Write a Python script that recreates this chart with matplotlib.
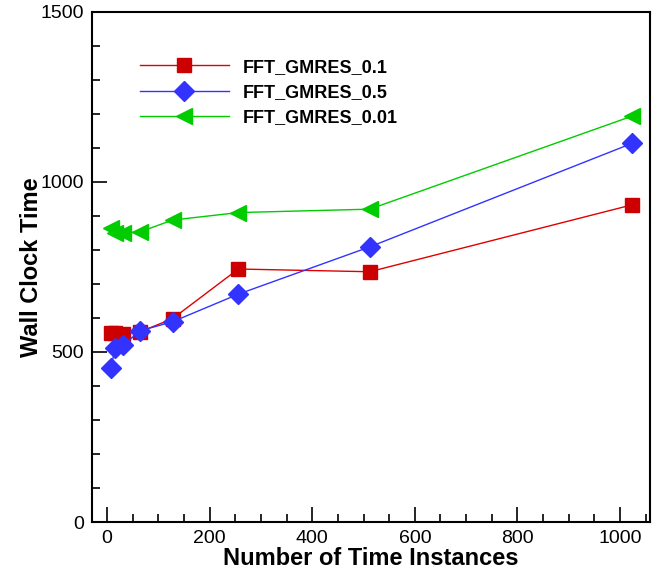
import numpy as np
import matplotlib
matplotlib.use("Agg")
import matplotlib.pyplot as plt
from matplotlib.ticker import MultipleLocator

plt.rcParams['font.family'] = ['Liberation Sans', 'DejaVu Sans']

# number of time instances
instances = [8, 16, 32, 64, 128, 256, 512, 1024]
# wall clock times
gmres_01 = [556, 556, 553, 559, 598, 744, 736, 933]
gmres_05 = [453, 513, 520, 562, 589, 670, 809, 1114]
gmres_001 = [865, 850, 850, 853, 888, 910, 920, 1194]

fig = plt.figure(figsize=(6.54, 5.77), dpi=100)
ax = fig.add_axes([0.1407, 0.0953, 0.853, 0.884])

ax.plot(instances, gmres_01, color="#e00000", lw=1.0, marker="s", ms=10,
        mfc="#cc0000", mec="#cc0000", label="FFT_GMRES_0.1")
ax.plot(instances, gmres_05, color="#3333ff", lw=1.0, marker="D", ms=10,
        mfc="#3333ff", mec="#3333ff", label="FFT_GMRES_0.5")
ax.plot(instances, gmres_001, color="#00cc00", lw=1.0, marker="<", ms=12,
        mfc="#00cc00", mec="#00cc00", label="FFT_GMRES_0.01")

ax.set_xlim(-29, 1058)
ax.set_ylim(0, 1500)
ax.xaxis.set_major_locator(MultipleLocator(200))
ax.xaxis.set_minor_locator(MultipleLocator(50))
ax.yaxis.set_major_locator(MultipleLocator(500))
ax.yaxis.set_minor_locator(MultipleLocator(100))
ax.tick_params(which="both", direction="in", top=False, right=False,
               labelsize=14, width=1.2, pad=6)
ax.tick_params(which="major", length=11)
ax.tick_params(which="minor", length=6)
for s in ax.spines.values():
    s.set_linewidth(1.5)

ax.set_xlabel("Number of Time Instances", fontsize=17, fontweight="bold", labelpad=0)
ax.set_ylabel("Wall Clock Time", fontsize=17, fontweight="bold", labelpad=-2)

leg = ax.legend(loc="upper left", bbox_to_anchor=(0.057, 0.94), frameon=False,
                prop={"size": 13, "weight": "bold"}, handlelength=4.9,
                handletextpad=0.8, labelspacing=0.45)

fig.savefig("out.png", dpi=100)
